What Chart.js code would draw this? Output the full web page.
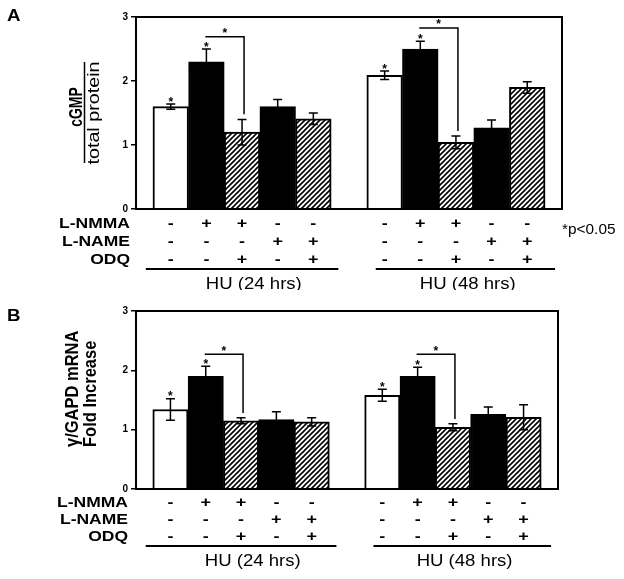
<!DOCTYPE html>
<html>
<head>
<meta charset="utf-8">
<script src="https://cdn.jsdelivr.net/npm/chart.js@4.4.0/dist/chart.umd.min.js"></script>
<style>
  body { margin: 0; background: #fff; }
  canvas { position: absolute; left: 0; }
  #chartA { top: 0; }
  #chartB { top: 290px; }
</style>
</head>
<body>
<canvas id="chartA" width="624" height="290"></canvas>
<canvas id="chartB" width="624" height="289"></canvas>
<script>
const groups = ['HU (24 hrs)', 'HU (48 hrs)'];
const rowLabels = ['L-NMMA', 'L-NAME', 'ODQ'];
const lnmma = ['-', '+', '+', '-', '-'];
const lname = ['-', '-', '-', '+', '+'];
const odq = ['-', '-', '+', '-', '+'];
const yTicks = [0, 1, 2, 3];

// panel A: cGMP / total protein
const cgmp24 = [1.60, 2.30, 1.20, 1.60, 1.41];
const cgmp24Err = [0.04, 0.20, 0.20, 0.11, 0.09];
const cgmp48 = [2.09, 2.50, 1.04, 1.27, 1.90];
const cgmp48Err = [0.065, 0.12, 0.10, 0.12, 0.09];
const bracketA = [2.69, 2.83];

// panel B: gamma/GAPD mRNA fold increase
const mrna24 = [1.34, 1.90, 1.15, 1.17, 1.13];
const mrna24Err = [0.18, 0.17, 0.05, 0.13, 0.07];
const mrna48 = [1.58, 1.90, 1.04, 1.26, 1.21];
const mrna48Err = [0.10, 0.15, 0.06, 0.12, 0.21];
const bracketB = [2.27, 2.27];

const starBars = [0, 1];   // bars marked * in each group
const FONT = '"Liberation Sans", Arial, sans-serif';

function hatch() {
  const c = document.createElement('canvas');
  c.width = 5; c.height = 5;
  const g = c.getContext('2d');
  g.fillStyle = '#fff';
  g.fillRect(0, 0, 5, 5);
  g.strokeStyle = '#000';
  g.lineWidth = 1.6;
  g.beginPath();
  g.moveTo(-1, 6); g.lineTo(6, -1);
  g.moveTo(-1, 1); g.lineTo(1, -1);
  g.moveTo(4, 6); g.lineTo(6, 4);
  g.stroke();
  return g.createPattern(c, 'repeat');
}

function drawText(ctx, str, x, y, font, o) {
  o = o || {};
  ctx.save();
  ctx.translate(x, y);
  ctx.scale(o.sx || 1, o.sy || 1);
  if (o.rot) ctx.rotate(o.rot);
  ctx.font = font;
  ctx.fillStyle = '#000';
  ctx.textAlign = o.align || 'center';
  ctx.textBaseline = o.base || 'middle';
  ctx.fillText(str, 0, 0);
  ctx.restore();
}

function makePanel(id, p) {
  const pattern = hatch();
  const fills = ['#fff', '#000', pattern, '#000', pattern];
  const pts = [];
  [[p.v24, p.e24], [p.v48, p.e48]].forEach(([vals, errs], g) => {
    vals.forEach((v, i) => pts.push({ x: i + g * 6, y: v, e: errs[i], col: i }));
  });

  const overlay = {
    id: 'overlay',
    afterDatasetsDraw(chart) {
      const ctx = chart.ctx, x = chart.scales.x, y = chart.scales.y;
      ctx.save();
      ctx.strokeStyle = '#000';
      ctx.lineWidth = 1.5;
      pts.forEach(d => {
        const px = x.getPixelForValue(d.x);
        const top = y.getPixelForValue(d.y + d.e), bot = y.getPixelForValue(d.y - d.e);
        ctx.beginPath();
        ctx.moveTo(px, top); ctx.lineTo(px, bot);
        ctx.moveTo(px - 4.5, top); ctx.lineTo(px + 4.5, top);
        ctx.moveTo(px - 4.5, bot); ctx.lineTo(px + 4.5, bot);
        ctx.stroke();
        if (starBars.includes(d.col)) {
          drawText(ctx, '*', px, top - 5 + 6.5, 'bold 12px ' + FONT, { base: 'alphabetic' });
        }
      });
      // significance brackets between bar 1 and bar 2 of each group
      p.bracket.forEach((by, g) => {
        const a = pts[g * 5 + 1], b = pts[g * 5 + 2];
        const x1 = x.getPixelForValue(a.x) - 1, x2 = x.getPixelForValue(b.x) + 2;
        const yy = y.getPixelForValue(by), yEnd = y.getPixelForValue(b.y + b.e + 0.08);
        ctx.beginPath();
        ctx.moveTo(x1, yy); ctx.lineTo(x2, yy); ctx.lineTo(x2, yEnd);
        ctx.stroke();
        drawText(ctx, '*', (x1 + x2) / 2, yy - 6 + 6.5, 'bold 12px ' + FONT, { base: 'alphabetic' });
      });
      ctx.restore();
    },
    afterDraw(chart) {
      const ctx = chart.ctx, x = chart.scales.x, a = chart.chartArea;
      ctx.save();
      ctx.strokeStyle = '#000';
      ctx.lineWidth = 2;
      ctx.strokeRect(a.left, a.top, a.right - a.left, a.bottom - a.top);

      drawText(ctx, p.letter, 7, p.letterY, 'bold 17px ' + FONT, { align: 'left', sx: 1.1 });
      p.yTitle(ctx);

      const rows = [lnmma, lname, odq];
      rows.forEach((row, r) => {
        drawText(ctx, rowLabels[r], p.labelX, p.rowsY[r], 'bold 14px ' + FONT, { align: 'right', sx: 1.25 });
        for (let g = 0; g < 2; g++) {
          row.forEach((s, i) => {
            drawText(ctx, s, x.getPixelForValue(i + g * 6), p.rowsY[r], 'bold 15px ' + FONT, { sx: 1.2 });
          });
        }
      });
      ctx.lineWidth = 2;
      [[-0.7, 4.7], [5.75, 10.78]].forEach(([s, e], g) => {
        ctx.beginPath();
        ctx.moveTo(x.getPixelForValue(s), p.lineY);
        ctx.lineTo(x.getPixelForValue(e), p.lineY);
        ctx.stroke();
        drawText(ctx, groups[g], x.getPixelForValue(2.33 + g * 6), p.huY, '16px ' + FONT, { sx: 1.16 });
      });
      if (p.pLabel) drawText(ctx, '*p<0.05', 562, 230, '14px ' + FONT, { align: 'left', sx: 1.1 });
      ctx.restore();
    }
  };

  return new Chart(document.getElementById(id), {
    type: 'bar',
    data: {
      datasets: [{
        data: pts.map(d => ({ x: d.x, y: d.y })),
        backgroundColor: pts.map(d => fills[d.col]),
        borderColor: '#000',
        borderWidth: 2,
        barPercentage: 1,
        categoryPercentage: 1
      }]
    },
    options: {
      responsive: false,
      animation: false,
      layout: { padding: p.padding },
      plugins: { legend: { display: false }, tooltip: { enabled: false } },
      scales: {
        x: { type: 'linear', display: false, offset: false, min: -0.975, max: 10.975 },
        y: {
          min: 0,
          max: 3,
          afterBuildTicks: s => { s.ticks = yTicks.map(v => ({ value: v })); },
          afterFit: s => { s.width = 136; },
          ticks: { color: '#000', font: { family: FONT, size: 10, weight: 'bold' }, padding: 3 },
          grid: { drawOnChartArea: false, tickLength: 5, color: '#000', lineWidth: 1.5 },
          border: { color: '#000', width: 2 }
        }
      }
    },
    plugins: [overlay]
  });
}

makePanel('chartA', {
  v24: cgmp24, e24: cgmp24Err, v48: cgmp48, e48: cgmp48Err, bracket: bracketA,
  padding: { top: 17, right: 62, bottom: 81, left: 0 },
  letter: 'A', letterY: 16,
  labelX: 130, rowsY: [224, 242, 260], lineY: 269, huY: 285, pLabel: true,
  yTitle(ctx) {
    drawText(ctx, 'cGMP', 82, 107, 'bold 14px ' + FONT, { rot: -Math.PI / 2, base: 'alphabetic', sx: 1.3 });
    ctx.lineWidth = 1.5;
    ctx.beginPath();
    ctx.moveTo(84.5, 62); ctx.lineTo(84.5, 163);
    ctx.stroke();
    drawText(ctx, 'total protein', 99, 113, '17px ' + FONT, { rot: -Math.PI / 2, base: 'alphabetic', sx: 0.95, sy: 1.16 });
  }
});

makePanel('chartB', {
  v24: mrna24, e24: mrna24Err, v48: mrna48, e48: mrna48Err, bracket: bracketB,
  padding: { top: 21, right: 66, bottom: 90, left: 0 },
  letter: 'B', letterY: 26,
  labelX: 128, rowsY: [213, 230, 247], lineY: 256, huY: 272, pLabel: false,
  yTitle(ctx) {
    drawText(ctx, 'γ/GAPD mRNA', 78, 157, 'bold 16.5px ' + FONT, { rot: -Math.PI / 2, align: 'left', base: 'alphabetic', sx: 1.1 });
    drawText(ctx, 'Fold Increase', 96, 157, 'bold 16.5px ' + FONT, { rot: -Math.PI / 2, align: 'left', base: 'alphabetic', sx: 1.1 });
  }
});
</script>
</body>
</html>
